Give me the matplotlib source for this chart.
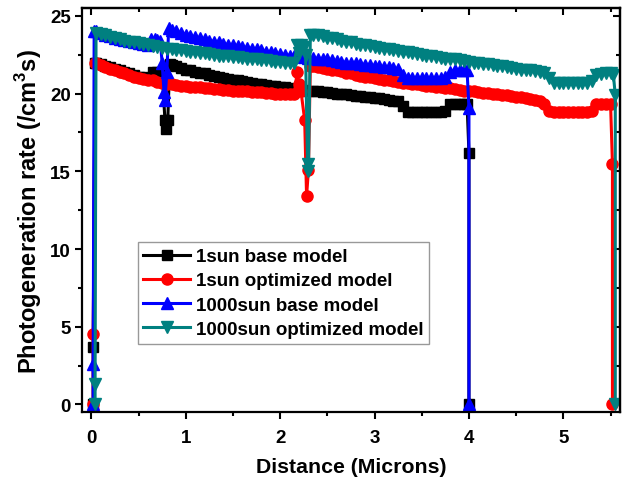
import matplotlib
matplotlib.use('Agg')
import matplotlib.pyplot as plt
from matplotlib.ticker import MultipleLocator, NullFormatter

plt.rcParams['font.family'] = ['Liberation Sans', 'DejaVu Sans']
plt.rcParams['font.weight'] = 'bold'
plt.rcParams['mathtext.fontset'] = 'custom'
plt.rcParams['mathtext.rm'] = 'Liberation Sans:bold'
plt.rcParams['mathtext.bf'] = 'Liberation Sans:bold'

# ---------------- data ----------------
labels = ['1sun base model', '1sun optimized model', '1000sun base model', '1000sun optimized model']

base1_x = [0.02, 0.02, 0.04, 0.05, 0.10, 0.15, 0.20, 0.25, 0.30, 0.35, 0.40, 0.45, 0.50, 0.55, 0.60, 0.65, 0.70, 0.75,
           0.78, 0.79, 0.81, 0.83,
           0.85, 0.90, 0.95, 1.00, 1.05, 1.10, 1.15, 1.20, 1.25, 1.30, 1.35, 1.40, 1.45, 1.50, 1.55, 1.60, 1.65, 1.70,
           1.75, 1.80, 1.85, 1.90, 1.95, 2.00, 2.05, 2.10, 2.15, 2.20, 2.25, 2.30, 2.35, 2.40, 2.45, 2.50, 2.55, 2.60,
           2.65, 2.70, 2.75, 2.80, 2.85, 2.90, 2.95, 3.00, 3.05, 3.10, 3.15, 3.20, 3.25, 3.30, 3.35, 3.40, 3.45, 3.50,
           3.55, 3.60, 3.65, 3.70, 3.75, 3.80, 3.85, 3.90, 3.95,
           3.98, 4.00, 4.00]
base1_y = [0, 3.7, 22.0, 22.0, 21.9, 21.8, 21.7, 21.6, 21.5, 21.4, 21.3, 21.2, 21.1, 21.05, 21.0, 21.4, 21.4, 21.35,
           18.3, 17.7, 18.3, 21.9,
           21.85, 21.75, 21.65, 21.55, 21.5, 21.4, 21.35, 21.3, 21.2, 21.15, 21.05, 21.0, 20.95, 20.9, 20.85, 20.8,
           20.75, 20.7, 20.65, 20.6, 20.55, 20.5, 20.5, 20.45, 20.4, 20.35, 20.3, 20.3, 20.25, 20.2, 20.2, 20.15,
           20.1, 20.1, 20.05, 20.0, 20.0, 19.95, 19.9, 19.85, 19.85, 19.8, 19.75, 19.7, 19.7, 19.65, 19.6, 19.55,
           19.5, 19.2, 18.8, 18.8, 18.8, 18.8, 18.8, 18.8, 18.8, 18.8, 18.85, 19.3, 19.3, 19.3, 19.35,
           19.35, 16.2, 0]

opt1_x = [0.02, 0.02, 0.04,
          0.05, 0.10, 0.15, 0.20, 0.25, 0.30, 0.35, 0.40, 0.45, 0.50, 0.55, 0.60, 0.65, 0.70, 0.75, 0.80, 0.85,
          0.90, 0.95, 1.00, 1.05, 1.10, 1.15, 1.20, 1.25, 1.30, 1.35, 1.40, 1.45, 1.50, 1.55, 1.60, 1.65, 1.70,
          1.75, 1.80, 1.85, 1.90, 1.95, 2.00, 2.05, 2.10, 2.15,
          2.18, 2.20, 2.22, 2.26, 2.28, 2.30, 2.32,
          2.35, 2.40, 2.45, 2.50, 2.55, 2.60, 2.65, 2.70, 2.75, 2.80, 2.85, 2.90, 2.95, 3.00, 3.05, 3.10, 3.15,
          3.20, 3.25, 3.30, 3.35, 3.40, 3.45, 3.50, 3.55, 3.60, 3.65, 3.70, 3.75, 3.80, 3.85, 3.90, 3.95, 4.00,
          4.05, 4.10, 4.15, 4.20, 4.25, 4.30, 4.35, 4.40, 4.45, 4.50, 4.55, 4.60, 4.65, 4.70, 4.75, 4.80, 4.85,
          4.90, 4.95, 5.00, 5.05, 5.10, 5.15, 5.20, 5.25, 5.30, 5.35, 5.40, 5.45, 5.50,
          5.52, 5.52]
opt1_y = [0, 4.5, 22.0,
          22.0, 21.85, 21.7, 21.6, 21.5, 21.4, 21.3, 21.2, 21.1, 21.0, 20.95, 20.9, 20.85, 20.75, 20.7, 20.65,
          20.6, 20.55, 20.5, 20.5, 20.45, 20.4, 20.4, 20.35, 20.35, 20.3, 20.3, 20.25, 20.25, 20.2, 20.2, 20.15,
          20.15, 20.1, 20.1, 20.1, 20.05, 20.05, 20.0, 20.0, 20.0, 19.95, 19.95,
          21.4, 20.6, 20.2, 18.3, 13.4, 15.1, 21.8,
          21.75, 21.7, 21.65, 21.6, 21.55, 21.5, 21.45, 21.35, 21.3, 21.2, 21.15, 21.1, 21.05, 21.0, 20.95, 20.9,
          20.85, 20.8, 20.75, 20.7, 20.7, 20.65, 20.6, 20.55, 20.5, 20.5, 20.45, 20.4, 20.35, 20.35, 20.3, 20.25,
          20.2, 20.2, 20.15, 20.1, 20.05, 20.05, 20.0, 19.95, 19.9, 19.9, 19.85, 19.8, 19.75, 19.7, 19.65, 19.6,
          19.5, 19.3, 18.9, 18.8, 18.8, 18.8, 18.8, 18.8, 18.8, 18.8, 18.8, 18.9, 19.3, 19.3, 19.35, 19.35,
          15.5, 0]

base1000_x = [0.02, 0.02, 0.03,
              0.05, 0.10, 0.15, 0.20, 0.25, 0.30, 0.35, 0.40, 0.45, 0.50, 0.55, 0.60,
              0.63, 0.67, 0.70, 0.73, 0.75, 0.77, 0.78, 0.80, 0.82,
              0.85, 0.90, 0.95, 1.00, 1.05, 1.10, 1.15, 1.20, 1.25, 1.30, 1.35, 1.40, 1.45, 1.50, 1.55, 1.60, 1.65,
              1.70, 1.75, 1.80, 1.85, 1.90, 1.95, 2.00, 2.05, 2.10, 2.15, 2.20, 2.25, 2.30, 2.35, 2.40, 2.45, 2.50,
              2.55, 2.60, 2.65, 2.70, 2.75, 2.80, 2.85, 2.90, 2.95, 3.00, 3.05, 3.10, 3.15, 3.20, 3.25, 3.30, 3.35,
              3.40, 3.45, 3.50, 3.55, 3.60, 3.65, 3.70, 3.75, 3.80, 3.85, 3.90, 3.95,
              3.98, 4.00, 4.00]
base1000_y = [0, 2.6, 24.0,
              24.0, 23.9, 23.8, 23.7, 23.6, 23.5, 23.45, 23.4, 23.3, 23.25, 23.2, 23.15,
              23.5, 23.5, 23.45, 23.4, 22.0, 20.1, 19.6, 21.4, 24.2,
              24.1, 24.0, 23.9, 23.8, 23.7, 23.65, 23.55, 23.5, 23.4, 23.35, 23.3, 23.2, 23.15, 23.1, 23.05, 23.0,
              22.95, 22.9, 22.85, 22.8, 22.7, 22.65, 22.6, 22.55, 22.5, 22.45, 22.4, 22.4, 22.35, 22.3, 22.3,
              22.25, 22.2, 22.2, 22.15, 22.1, 22.05, 22.0, 22.0, 21.95, 21.9, 21.85, 21.85, 21.8, 21.75, 21.7,
              21.7, 21.65, 21.6, 21.2, 21.0, 21.0, 21.0, 21.0, 21.0, 21.0, 21.0, 21.0, 21.05, 21.4, 21.5, 21.5, 21.5,
              21.5, 19.1, 0]

opt1000_x = [0.04, 0.04, 0.05,
             0.10, 0.15, 0.20, 0.25, 0.30, 0.35, 0.40, 0.45, 0.50, 0.55, 0.60, 0.65, 0.70, 0.75, 0.80, 0.85, 0.90,
             0.95, 1.00, 1.05, 1.10, 1.15, 1.20, 1.25, 1.30, 1.35, 1.40, 1.45, 1.50, 1.55, 1.60, 1.65, 1.70, 1.75,
             1.80, 1.85, 1.90, 1.95, 2.00, 2.05, 2.10, 2.15,
             2.18, 2.20, 2.22, 2.25, 2.27, 2.29, 2.30, 2.32,
             2.35, 2.40, 2.45, 2.50, 2.55, 2.60, 2.65, 2.70, 2.75, 2.80, 2.85, 2.90, 2.95, 3.00, 3.05, 3.10, 3.15,
             3.20, 3.25, 3.30, 3.35, 3.40, 3.45, 3.50, 3.55, 3.60, 3.65, 3.70, 3.75, 3.80, 3.85, 3.90, 3.95, 4.00,
             4.05, 4.10, 4.15, 4.20, 4.25, 4.30, 4.35, 4.40, 4.45, 4.50, 4.55, 4.60, 4.65, 4.70, 4.75, 4.80, 4.85,
             4.90, 4.95, 5.00, 5.05, 5.10, 5.15, 5.20, 5.25, 5.30, 5.35, 5.40, 5.45, 5.50,
             5.53, 5.55, 5.55]
opt1000_y = [0, 1.3, 23.9,
             23.85, 23.75, 23.65, 23.55, 23.5, 23.4, 23.35, 23.3, 23.25, 23.2, 23.1, 23.05, 23.0, 22.95, 22.9,
             22.85, 22.8, 22.8, 22.75, 22.7, 22.65, 22.6, 22.6, 22.55, 22.5, 22.45, 22.45, 22.4, 22.35, 22.35,
             22.3, 22.25, 22.25, 22.2, 22.15, 22.15, 22.1, 22.05, 22.05, 22.0, 22.0, 22.0,
             23.1, 22.6, 23.1, 23.0, 22.5, 15.5, 15.0, 23.8,
             23.8, 23.75, 23.7, 23.6, 23.55, 23.5, 23.4, 23.35, 23.3, 23.2, 23.15, 23.1, 23.05, 23.0, 22.95, 22.9,
             22.85, 22.8, 22.75, 22.7, 22.65, 22.6, 22.55, 22.5, 22.45, 22.4, 22.35, 22.3, 22.25, 22.2, 22.2,
             22.15, 22.1, 22.05, 22.0, 21.95, 21.9, 21.9, 21.85, 21.8, 21.75, 21.7, 21.65, 21.6, 21.55, 21.5, 21.5,
             21.45, 21.4, 21.35, 21.0, 20.7, 20.7, 20.7, 20.7, 20.7, 20.7, 20.7, 20.7, 20.8, 21.2, 21.25, 21.3, 21.3,
             21.2, 19.9, 0]

xticks = [0, 1, 2, 3, 4, 5]
yticks = [0, 5, 10, 15, 20, 25]

# ---------------- figure ----------------
fig = plt.figure(figsize=(6.25, 4.81), dpi=100)
ax = fig.add_axes([0.131, 0.141, 0.861, 0.840])

series = [
    (base1_x, base1_y, 'black', 's', 7),
    (opt1_x, opt1_y, '#ff0000', 'o', 8),
    (base1000_x, base1000_y, '#0000ff', '^', 8.5),
    (opt1000_x, opt1000_y, '#008080', 'v', 8.5),
]
for (xs, ys, c, m, ms), lab in zip(series, labels):
    ax.plot(xs, ys, color=c, marker=m, markersize=ms, linewidth=2.2, markeredgecolor=c,
            markerfacecolor=c, label=lab)

ax.set_xlim(-0.1, 5.6)
ax.set_ylim(-0.5, 25.5)
ax.set_xticks(xticks)
ax.set_yticks(yticks)
ax.xaxis.set_minor_locator(MultipleLocator(0.5))
ax.yaxis.set_minor_locator(MultipleLocator(2.5))
ax.tick_params(which='major', direction='out', length=5, width=1.5, labelsize=13.5)
ax.tick_params(axis='x', which='major', pad=7)
ax.tick_params(axis='y', which='major', pad=3)
ax.tick_params(which='minor', direction='out', length=3, width=1.5)
for s in ax.spines.values():
    s.set_linewidth(1.6)

top = ax.secondary_xaxis('top')
top.set_xticks(xticks)
top.xaxis.set_minor_locator(MultipleLocator(0.5))
top.tick_params(which='major', direction='in', length=5, width=1.5)
top.tick_params(which='minor', direction='in', length=3, width=1.5)
top.xaxis.set_major_formatter(NullFormatter())
top.spines['top'].set_linewidth(1.6)

right = ax.secondary_yaxis('right')
right.set_yticks(yticks)
right.yaxis.set_minor_locator(MultipleLocator(2.5))
right.tick_params(which='major', direction='in', length=5, width=1.5)
right.tick_params(which='minor', direction='in', length=3, width=1.5)
right.yaxis.set_major_formatter(NullFormatter())
right.spines['right'].set_linewidth(1.6)

ax.set_xlabel('Distance (Microns)', fontsize=15.3, fontweight='bold', labelpad=8)
ax.set_ylabel(r'Photogeneration rate (/cm$^{\mathbf{3}}$s)', fontsize=17, fontweight='bold', labelpad=4)

leg = ax.legend(loc='upper left', bbox_to_anchor=(0.104, 0.42), borderaxespad=0, fancybox=False,
                numpoints=1, handlelength=2.5, handletextpad=0.3, labelspacing=0.38, borderpad=0.3,
                prop={'size': 13.5, 'weight': 'bold'})
leg.get_frame().set_edgecolor('#808080')
leg.get_frame().set_linewidth(1.0)

fig.savefig('out.png', dpi=100)
